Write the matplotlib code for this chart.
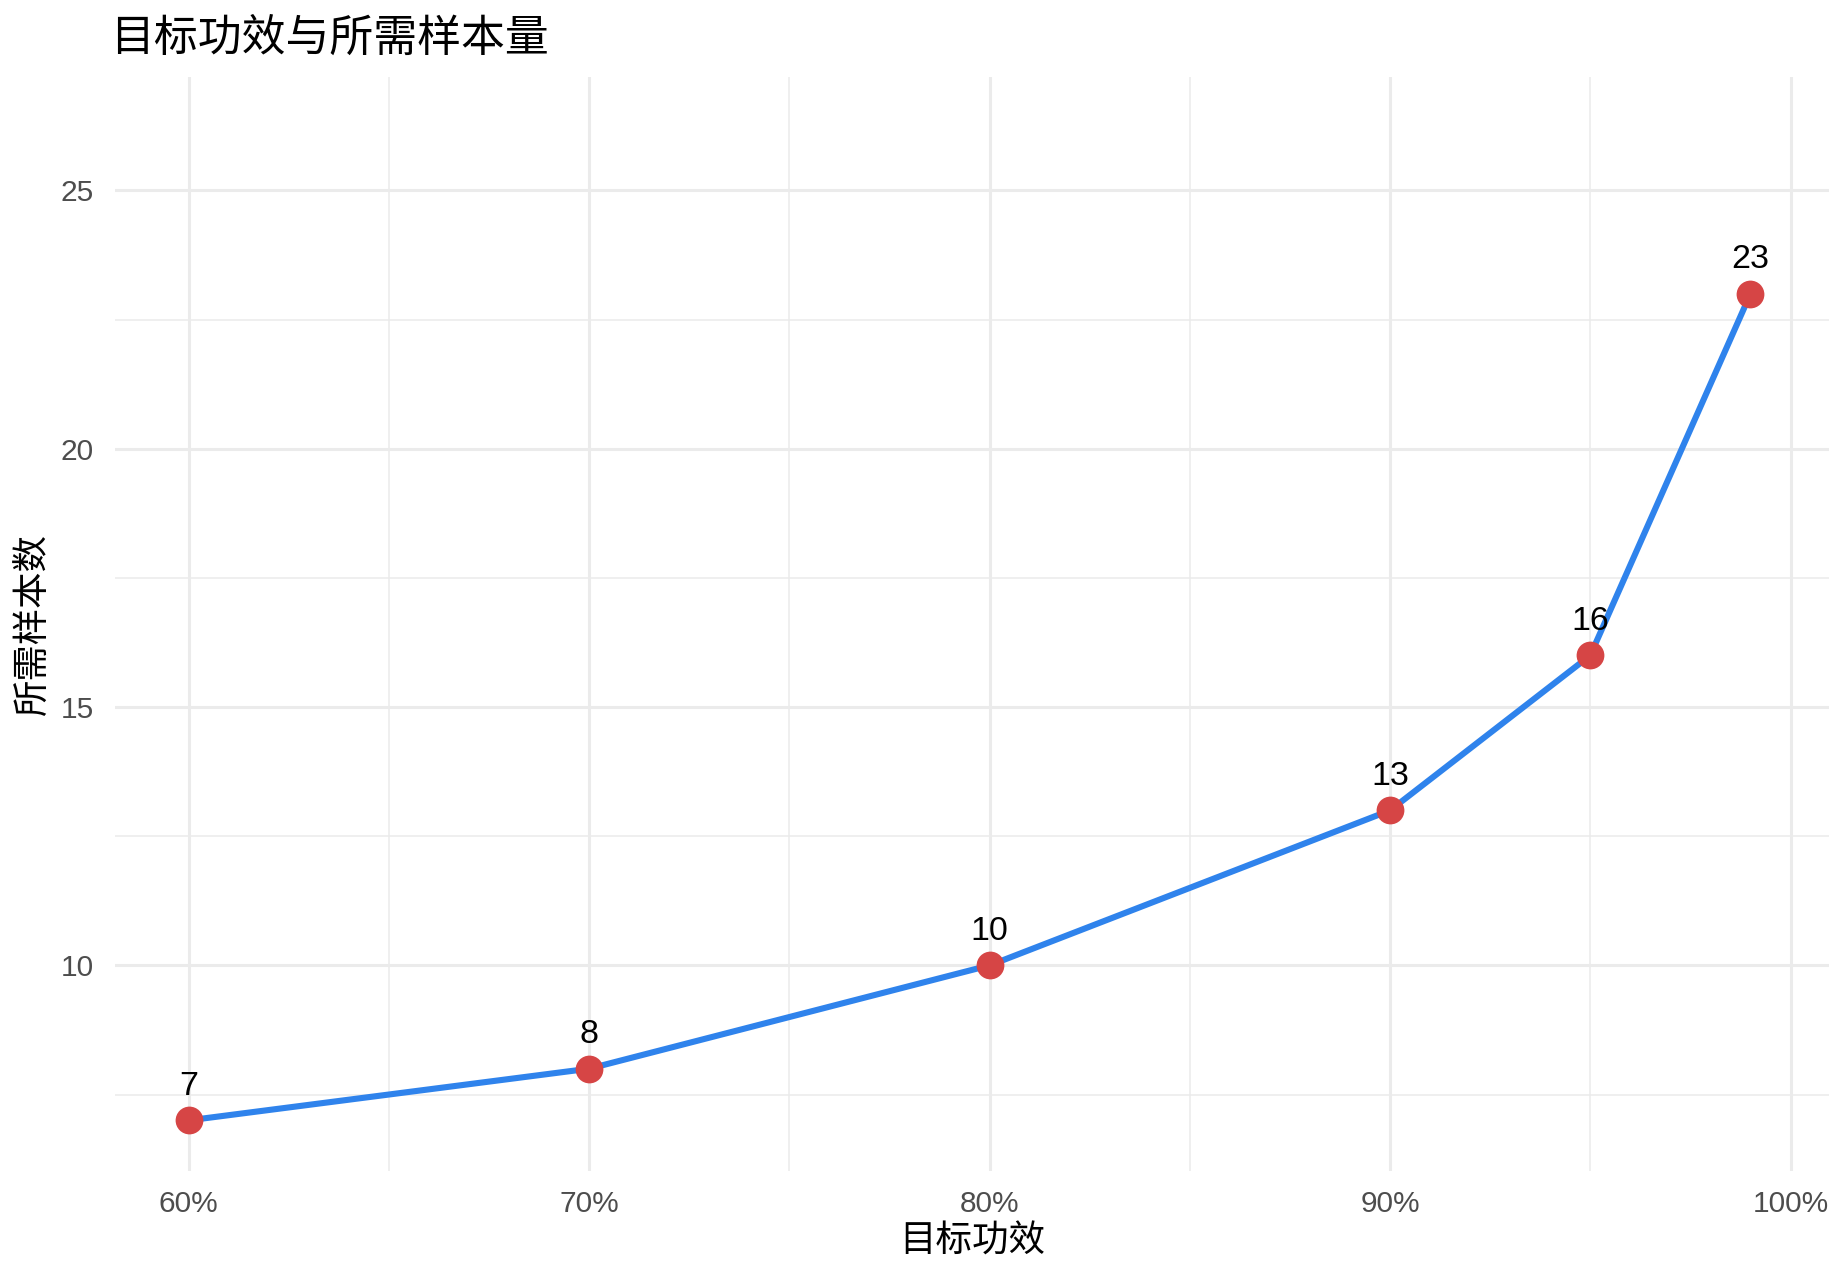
import matplotlib.pyplot as plt
from matplotlib.ticker import MultipleLocator, FuncFormatter

plt.rcParams['font.family'] = ['Liberation Sans', 'Noto Sans CJK SC', 'DejaVu Sans']

# 数据
power_pct = [60, 70, 80, 90, 95, 99]
sample_n = [7, 8, 10, 13, 16, 23]
x_ticks = [60, 70, 80, 90, 100]
y_ticks = [10, 15, 20, 25]

fig = plt.figure(figsize=(18.48, 12.76), dpi=100)
ax = fig.add_axes([0.0622, 0.0823, 0.9275, 0.8575])

ax.plot(power_pct, sample_n, color='#2F83EC', linewidth=4.4, zorder=3,
        solid_capstyle='butt')
ax.plot(power_pct, sample_n, 'o', color='#D64545', markersize=20,
        markeredgewidth=0, zorder=4)

for x, y in zip(power_pct, sample_n):
    ax.annotate(str(y), (x, y), xytext=(0, 24.5), textcoords='offset points',
                ha='center', va='center', fontsize=24.5, color='black')

ax.set_xlim(58.16, 100.96)
ax.set_ylim(6.02, 27.2)

ax.set_xticks(x_ticks)
ax.set_yticks(y_ticks)
ax.xaxis.set_minor_locator(MultipleLocator(5))
ax.yaxis.set_minor_locator(MultipleLocator(2.5))
ax.xaxis.set_major_formatter(FuncFormatter(lambda v, p: f"{v:.0f}%"))

ax.grid(which='major', color='#EBEBEB', linewidth=2.2)
ax.grid(which='minor', color='#EBEBEB', linewidth=1.1)
ax.set_axisbelow(True)
for s in ax.spines.values():
    s.set_visible(False)
ax.tick_params(which='both', length=0, labelsize=21.5, labelcolor='#4D4D4D')
ax.tick_params(axis='x', pad=14)
ax.tick_params(axis='y', pad=15)

ax.set_xlabel('目标功效', fontsize=26.3, labelpad=4.5)
ax.set_ylabel('所需样本数', fontsize=26.2, labelpad=6.5)
fig.text(0.0598, 0.969, '目标功效与所需样本量', fontsize=31.6, ha='left', va='center')

fig.savefig('out.png', dpi=100)
